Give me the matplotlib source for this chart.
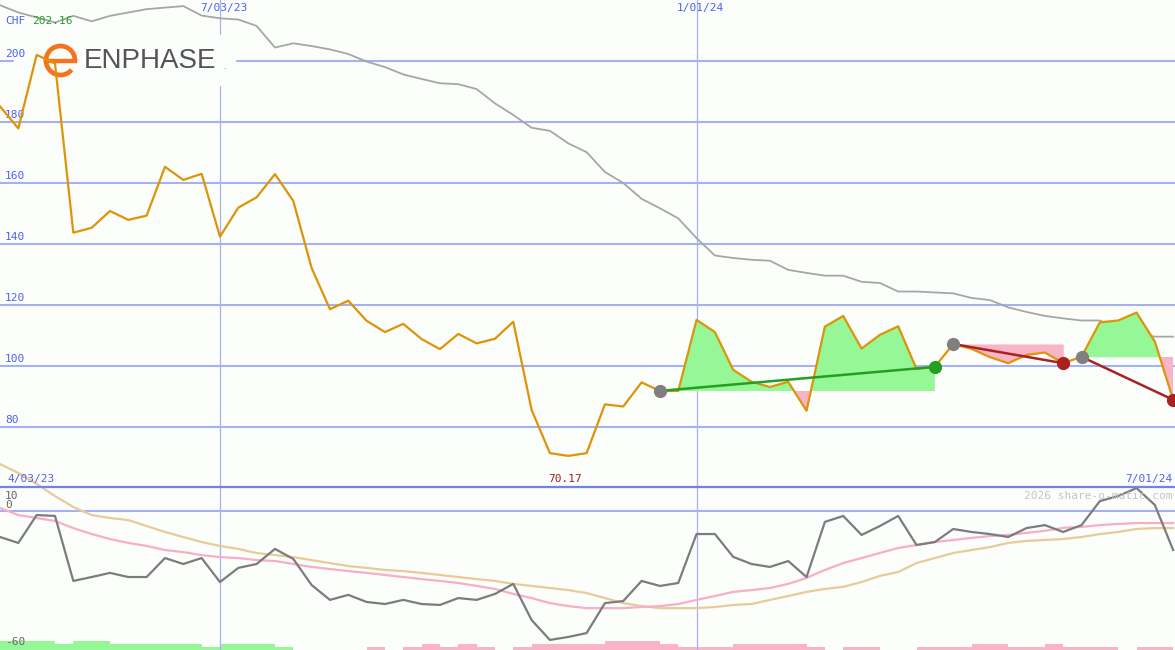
import numpy as np
import matplotlib
matplotlib.use("Agg")
import matplotlib.pyplot as plt
import matplotlib.lines as mlines
import matplotlib.patches as mpatches
from matplotlib.transforms import Affine2D

# weekly closes (CHF), index 0..64
price = [185.0, 177.8, 201.9, 199.1, 143.6, 145.2, 150.7, 147.8, 149.2, 165.2,
         160.9, 162.9, 142.3, 151.8, 155.2, 162.8, 154.0, 132.0, 118.5, 121.3,
         114.7, 111.0, 113.7, 108.7, 105.4, 110.4, 107.3, 108.8, 114.4, 85.5,
         71.3, 70.4, 71.3, 87.3, 86.6, 94.5, 91.7, 91.7, 115.0, 111.0,
         98.6, 94.7, 93.0, 94.7, 85.2, 112.8, 116.3, 105.6, 110.1, 112.9,
         98.9, 99.6, 107.1, 105.5, 102.8, 100.8, 103.5, 104.3, 100.8, 102.9,
         114.2, 114.8, 117.4, 107.9, 88.8]

long_ma = [218.2, 215.8, 214.2, 212.5, 214.7, 212.9, 214.7, 215.8, 216.9, 217.4,
           217.9, 214.8, 213.9, 213.5, 211.4, 204.3, 205.7, 204.8, 203.7, 202.2,
           199.7, 197.9, 195.5, 194.0, 192.6, 192.3, 190.7, 186.0, 182.2, 178.0,
           177.0, 172.9, 170.0, 163.5, 159.9, 154.7, 151.6, 148.3, 141.8, 136.1,
           135.3, 134.7, 134.4, 131.4, 130.4, 129.5, 129.5, 127.5, 127.1, 124.3,
           124.3, 124.0, 123.7, 122.2, 121.5, 119.1, 117.6, 116.3, 115.5, 114.8,
           114.8, 112.3, 110.7, 109.5, 109.5]

osc = [-11.5, -14.1, -1.9, -2.3, -30.7, -29.0, -27.2, -29.0, -29.0, -20.7,
       -23.3, -20.7, -31.2, -25.0, -23.3, -16.7, -21.1, -32.5, -39.0, -36.8,
       -39.9, -40.8, -39.0, -40.8, -41.2, -38.2, -39.0, -36.4, -32.0, -47.8,
       -56.5, -55.2, -53.5, -40.4, -39.5, -30.7, -32.9, -31.6, -10.2, -10.2,
       -20.2, -23.3, -24.6, -22.0, -29.0, -4.9, -2.3, -10.6, -6.7, -2.3,
       -15.0, -13.7, -8.0, -9.3, -10.2, -11.5, -7.6, -6.3, -9.3, -6.3,
       4.2, 6.4, 9.9, 2.5, -17.2]

osc_fast = [1.2, -1.9, -3.2, -4.5, -7.6, -10.2, -12.4, -14.1, -15.4, -17.2,
            -18.1, -19.4, -20.3, -20.7, -21.6, -22.0, -23.3, -24.6, -25.5, -26.4,
            -27.2, -28.1, -29.0, -29.9, -30.7, -31.6, -32.9, -34.2, -36.4, -38.2,
            -40.4, -41.7, -42.6, -42.6, -42.6, -42.1, -41.7, -40.8, -39.0, -37.3,
            -35.5, -34.7, -33.8, -32.0, -29.4, -25.9, -22.9, -20.7, -18.5, -16.3,
            -15.0, -13.7, -12.8, -11.9, -11.1, -10.6, -9.7, -8.8, -7.5, -7.1,
            -6.3, -5.8, -5.4, -5.4, -5.4]

osc_slow = [20.4, 16.5, 11.7, 6.4, 1.6, -1.9, -3.2, -4.1, -6.7, -9.3,
            -11.5, -13.7, -15.4, -16.7, -18.5, -19.4, -20.3, -21.6, -22.9, -24.2,
            -25.0, -25.9, -26.4, -27.2, -28.1, -29.0, -29.9, -30.7, -32.0, -32.9,
            -33.8, -34.7, -36.0, -38.2, -40.4, -41.7, -42.6, -42.6, -42.6, -42.1,
            -41.2, -40.8, -39.0, -37.3, -35.5, -34.2, -33.3, -31.2, -28.5, -26.8,
            -22.9, -20.7, -18.5, -17.2, -15.9, -14.1, -13.2, -12.8, -12.4, -11.5,
            -10.2, -9.3, -8.0, -7.6, -7.6]

# signed strength bars along the bottom (+ green, - pink)
strength = [3, 3, 3, 2, 3, 3, 2, 2, 2, 2, 2, 1, 2, 2, 2, 1, 0, 0, 0, 0,
            -1, 0, -1, -2, -1, -2, -1, 0, -1, -2, -2, -2, -2, -3, -3, -3, -2, -1, -1, -1,
            -2, -2, -2, -2, -1, 0, -1, -1, 0, 0, -1, -1, -1, -2, -2, -1, -1, -2, -1, -1,
            -1, 0, -1, -1, 0]

# (start, end) index of each trade window
trades = [(36, 51), (52, 58), (59, 64)]

price_ticks = [200, 180, 160, 140, 120, 100, 80]
top_dates = ["7/03/23", "1/01/24"]
top_date_idx = [12, 38]
edge_dates = ["4/03/23", "7/01/24"]

W, H = 1175, 650
BG = "#fcfefc"
GRID = "#a4b2f2"
BLUE = "#4f5ff0"

fig = plt.figure(figsize=(W / 100, H / 100), dpi=100, facecolor=BG)
pix = Affine2D().scale(1, -1).translate(0, H)   # image pixel coords -> display

x = np.arange(len(price))
xmax = 64.1

# ---- price panel ----
ax = fig.add_axes([0, 163 / H, 1, 487 / H])
ax.set_xlim(0, xmax)
ax.set_ylim(60.2, 219.9)
ax.axis("off")

for v in price_ticks:
    ax.axhline(v, color=GRID, lw=1.5, zorder=1)
    ax.annotate(str(v), xy=(0, v), xycoords=("axes fraction", "data"),
                xytext=(5, 2), textcoords="offset pixels", va="bottom",
                color=BLUE, fontsize=8, family="DejaVu Sans Mono", zorder=4)
for i in top_date_idx:
    ax.axvline(i, color=GRID, lw=0.9, zorder=1)

# logo
ax.add_patch(mpatches.Rectangle((14, 35), 221, 50, transform=pix, color=BG, zorder=2))
ax.add_patch(mpatches.Arc((60.5, 60.5), 29, 29, theta1=40, theta2=360, transform=pix,
                          color="#f37321", lw=3.4, zorder=3))
ax.add_line(mlines.Line2D([46, 75], [60.5, 60.5], transform=pix, color="#f37321",
                          lw=3.2, zorder=3))
ax.text(84, 61, "ENPHASE", transform=pix, fontsize=20, family="Liberation Sans",
        color="#545456", va="center", ha="left", zorder=3)
ax.text(223, 69, ".", transform=pix, fontsize=5, color="#808080", zorder=3)

ax.plot(x, long_ma, color="#a6a6a6", lw=1.3, zorder=3)

p = np.array(price)
for s, e in trades:
    seg = x[s:e + 1]
    base = price[s]
    ax.fill_between(seg, base, p[s:e + 1], where=p[s:e + 1] >= base, interpolate=True,
                    color="#96f796", lw=0, zorder=3)
    ax.fill_between(seg, base, p[s:e + 1], where=p[s:e + 1] <= base, interpolate=True,
                    color="#f9b4c8", lw=0, zorder=3)

ax.plot(x, price, color="#dd9408", lw=1.6, zorder=5)

for s, e in trades:
    up = price[e] > price[s]
    c = "#22a022" if up else "#a82222"
    ax.plot([s, e], [price[s], price[e]], color=c, lw=1.8, zorder=6)
    ax.plot(s, price[s], "o", color="#7f7f7f", ms=8.5, zorder=7)
    ax.plot(e, price[e], "o", color=c, ms=8.5, zorder=7, clip_on=False)

# ---- oscillator panel ----
ax2 = fig.add_axes([0, 0, 1, 163 / H])
ax2.set_xlim(0, xmax)
ax2.set_ylim(-60.9, 10.36)
ax2.axis("off")
ax2.axhline(0, color=GRID, lw=1.5, zorder=1)
for i in top_date_idx:
    ax2.axvline(i, color=GRID, lw=0.9, zorder=1)

ax3 = ax2.twinx()
ax3.set_ylim(0, 163 / 3)
ax3.axis("off")
lev = np.array(strength)
ax3.bar(x, np.abs(lev), width=1.0, align="edge",
        color=["#96f796" if v > 0 else "#f9b4c8" for v in lev], lw=0, zorder=1)

ax2.plot(x, osc_slow, color="#e6cc98", lw=1.6, zorder=3, clip_on=False)
ax2.plot(x, osc_fast, color="#f7aec6", lw=1.6, zorder=3, clip_on=False)
ax2.plot(x, osc, color="#7c7c7c", lw=1.6, zorder=4, clip_on=False)
ax2.set_zorder(ax.get_zorder() + 1)
ax3.set_zorder(ax2.get_zorder() - 0.5)
ax2.patch.set_visible(False)

fig.add_artist(mlines.Line2D([0, 1], [163 / H, 163 / H], transform=fig.transFigure,
                             color="#7282e6", lw=1.6))

# ---- texts ----
mono = dict(family="DejaVu Sans Mono", fontsize=8)


def put(px_x, px_y, s, color, ha="left"):
    fig.text(px_x / W, 1 - px_y / H, s, color=color, ha=ha, va="center", **mono)


put(5, 21, "CHF", BLUE)
put(32, 21, "%.2f" % 202.16, "#22a022")
for lab, i in zip(top_dates, top_date_idx):
    put(i * W / xmax + 4, 8, lab, BLUE, ha="center")
put(7, 479, edge_dates[0], BLUE)
put(1172, 479, edge_dates[1], BLUE, ha="right")
put(548, 479, "%.2f" % 70.17, "#a02020")
put(1172, 496, "2026 share-o-matic.com", "#c4c4c4", ha="right")
put(5, 496, "10", "#666666")
put(5, 505, "0", "#666666")
put(5, 642, "-60", "#666666")

plt.savefig("out.png", dpi=100, facecolor=BG)
